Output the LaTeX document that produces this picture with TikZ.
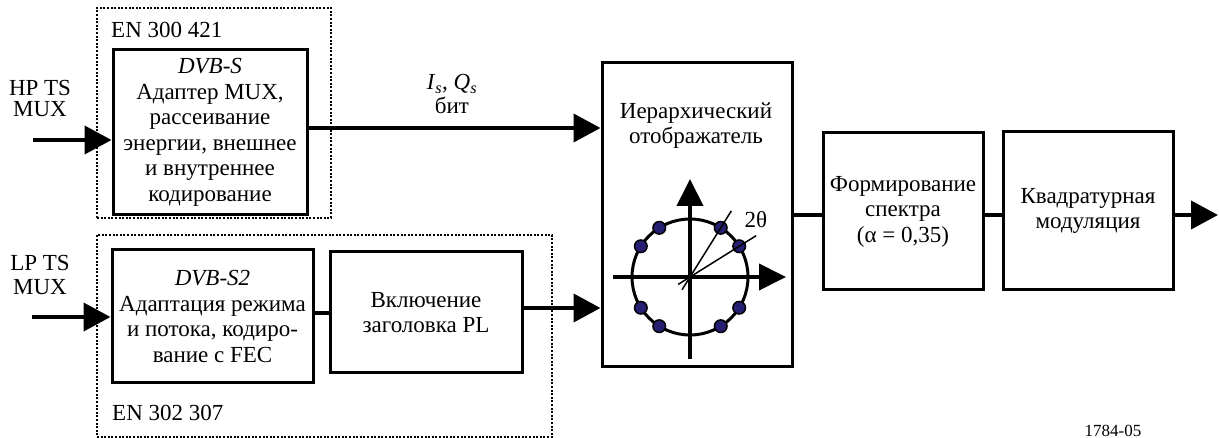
\documentclass[tikz,border=0pt]{standalone}
\usepackage{fontspec}
\setmainfont{Liberation Serif}
\usetikzlibrary{arrows.meta}
\definecolor{dotblue}{RGB}{38,30,112}
\begin{document}
\begin{tikzpicture}[x=1pt,y=-1pt,
  txt/.style={font=\fontsize{23}{25.5}\selectfont, align=center, inner sep=0pt},
  block/.style={txt, draw, line width=3pt},
  group/.style={draw, line width=2pt, dash pattern=on 2pt off 1.6pt, inner sep=0pt},
  conn/.style={line width=4pt},
  arr/.style={conn, -{Triangle[length=27pt,width=28pt]}},
  axis/.style={line width=4pt, -{Triangle[length=27pt,width=26pt]}},
  ray/.style={line width=1.5pt},
  pt/.style={fill=dotblue, draw=black, line width=1.5pt}]
\useasboundingbox (0,0) rectangle (1219,438);

% dotted standard groups
\node[group, minimum width=234pt, minimum height=210pt] (grpS) at (214,113) {};
\node[group, minimum width=455pt, minimum height=202pt] (grpS2) at (324.5,336) {};
\node[txt, anchor=west] (en1) at (111,30) {EN 300 421};
\node[txt, anchor=west] (en2) at (112,413) {EN 302 307};

% processing blocks
\node[block, minimum width=194pt, minimum height=165pt] (dvbs) at (210,132.5)
  {\textit{DVB-S}\\Адаптер MUX,\\рассеивание\\энергии, внешнее\\и внутреннее\\кодирование};
\node[block, minimum width=201pt, minimum height=133pt] (dvbs2) at (212.5,316.5)
  {\textit{DVB-S2}\\Адаптация режима\\и потока, кодиро-\\вание с FEC};
\node[block, minimum width=192pt, minimum height=121pt] (plh) at (426,312.5)
  {Включение\\заголовка PL};
\node[block, minimum width=190pt, minimum height=304pt] (hmap) at (697,215) {};
\node[txt] (hmaptxt) at (696,125.5) {Иерархический\\отображатель};
\node[block, minimum width=160pt, minimum height=157pt] (shape) at (903,211.5)
  {Формирование\\спектра\\(α = 0,35)};
\node[block, minimum width=170pt, minimum height=158pt] (qmod) at (1088,211)
  {Квадратурная\\модуляция};

% input labels
\node[txt, font=\fontsize{23}{21}\selectfont] (hp) at (40,98.5) {HP TS\\MUX};
\node[txt, font=\fontsize{23}{24}\selectfont] (lp) at (40,275) {LP TS\\MUX};
\node[txt, font=\fontsize{23}{23}\selectfont] (iq) at (452,94)
  {\textit{I}\textsubscript{\textit{s}}, \textit{Q}\textsubscript{\textit{s}}\\[1pt]бит};

% connectors
\coordinate (hpin) at (33,140);
\coordinate (lpin) at (32,317);
\coordinate (out) at (1218,215);
\coordinate (sOut) at ([yshift=4.5pt]dvbs.east);
\coordinate (s2Out) at ([yshift=3.5pt]dvbs2.east);
\coordinate (plOut) at ([yshift=4.5pt]plh.east);
\draw[arr] (hpin) -- (hpin -| dvbs.west);
\draw[arr] (lpin) -- (lpin -| dvbs2.west);
\draw[arr] (sOut) -- (sOut -| hmap.west);
\draw[conn] (s2Out) -- (s2Out -| plh.west);
\draw[arr] (plOut) -- (plOut -| hmap.west);
\draw[conn] (hmap.east) -- (hmap.east -| shape.west);
\draw[conn] (shape.east |- hmap.east) -- (qmod.west |- hmap.east);
\draw[arr] (qmod.east |- hmap.east) -- (out);

% constellation diagram
\coordinate (o) at (690,277);
\draw[line width=3pt] (o) circle[radius=58pt];
\draw[axis] (690,359) -- (690,179);
\draw[axis] (613,277) -- (786,277);
\foreach \a in {32,58,122,148,212,238,302,328}
  \path[pt] (o) ++(-\a:58) circle[radius=6.3pt];
\draw[ray] (o) ++(-212:14) -- ++(-32:92);
\draw[ray] (o) ++(-238:15) -- ++(-58:93);
\node[txt] (theta) at (756,220) {2θ};

\node[font=\fontsize{17}{17}\selectfont, anchor=base, inner sep=0pt] (fig) at (1113,436.5) {1784-05};
\end{tikzpicture}
\end{document}
